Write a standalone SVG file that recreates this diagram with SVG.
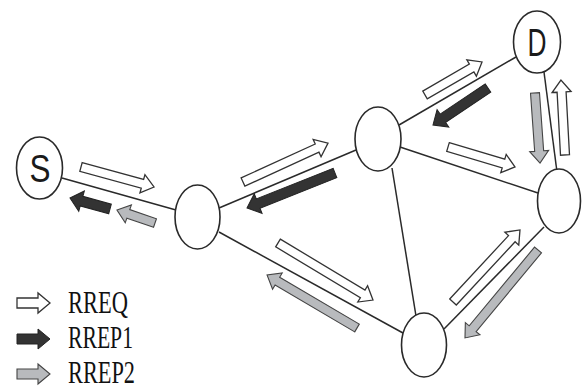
<svg xmlns="http://www.w3.org/2000/svg" width="582" height="390" viewBox="0 0 582 390">
<style>
.edge{stroke:#2a2a2a;stroke-width:1.5;fill:none}
.node{fill:#fff;stroke:#2a2a2a;stroke-width:1.6}
.lbl{font-family:"Liberation Sans",Arial,sans-serif;font-size:38px;fill:#1a1a1a;text-anchor:middle}
.rreq{fill:#fff;stroke:#333;stroke-width:1.3;stroke-linejoin:miter}
.rrep1{fill:#333;stroke:#222;stroke-width:1}
.rrep2{fill:#b8babd;stroke:#444;stroke-width:1.1}
.leg{font-family:"Liberation Serif","Times New Roman",serif;font-size:31px;fill:#111}
</style>
<rect width="582" height="390" fill="#fff"/>
<g id="connectors">
<line class="edge" x1="62" y1="178" x2="176" y2="210"/>
<line class="edge" x1="219" y1="208" x2="356" y2="150"/>
<line class="edge" x1="219" y1="232" x2="403" y2="333"/>
<line class="edge" x1="399" y1="125" x2="516" y2="57"/>
<line class="edge" x1="400" y1="147" x2="538" y2="193"/>
<line class="edge" x1="392" y1="168" x2="416" y2="316"/>
<line class="edge" x1="544" y1="72" x2="557" y2="172"/>
<line class="edge" x1="444" y1="329" x2="544" y2="227"/>
</g>
<g id="messages">
<path class="rreq" transform="translate(81,167) rotate(15.3)" d="M0,-4.5H63.7V-9.5L75.7,0L63.7,9.5V4.5H0Z"/>
<path class="rrep1" transform="translate(110,209) rotate(195.4)" d="M0,-5H29.5V-10.5L41.5,0L29.5,10.5V5H0Z"/>
<path class="rrep2" transform="translate(155,223) rotate(198.9)" d="M0,-4.5H28.2V-9.5L40.2,0L28.2,9.5V4.5H0Z"/>
<path class="rreq" transform="translate(243,182) rotate(-24.6)" d="M0,-4.5H81.5V-9.5L93.5,0L81.5,9.5V4.5H0Z"/>
<path class="rrep1" transform="translate(335,173) rotate(158.3)" d="M0,-5H82.7V-10.5L94.7,0L82.7,10.5V5H0Z"/>
<path class="rreq" transform="translate(425,95) rotate(-30.1)" d="M0,-4.5H53.9V-9.5L65.9,0L53.9,9.5V4.5H0Z"/>
<path class="rrep1" transform="translate(488,88) rotate(146.1)" d="M0,-5H54.3V-10.5L66.3,0L54.3,10.5V5H0Z"/>
<path class="rreq" transform="translate(448,147) rotate(16.6)" d="M0,-4.5H57.9V-9.5L69.9,0L57.9,9.5V4.5H0Z"/>
<path class="rrep2" transform="translate(535,93) rotate(85.9)" d="M0,-4.5H58.2V-9.5L70.2,0L58.2,9.5V4.5H0Z"/>
<path class="rreq" transform="translate(565,155) rotate(-93.1)" d="M0,-4.5H63.1V-9.5L75.1,0L63.1,9.5V4.5H0Z"/>
<path class="rreq" transform="translate(278,243) rotate(31)" d="M0,-4.5H98.8V-9.5L110.8,0L98.8,9.5V4.5H0Z"/>
<path class="rrep2" transform="translate(357,328) rotate(210.5)" d="M0,-4.5H92.4V-9.5L104.4,0L92.4,9.5V4.5H0Z"/>
<path class="rreq" transform="translate(453,302) rotate(-47.1)" d="M0,-4.5H86.4V-9.5L98.4,0L86.4,9.5V4.5H0Z"/>
<path class="rrep2" transform="translate(538,250) rotate(129.7)" d="M0,-4.5H102.3V-9.5L114.3,0L102.3,9.5V4.5H0Z"/>
</g>
<g id="node-S">
<ellipse class="node" cx="39.5" cy="168" rx="23" ry="31"/>
<text class="lbl" x="40" y="182" textLength="21" lengthAdjust="spacingAndGlyphs">S</text>
</g>
<g id="node-A"><ellipse class="node" cx="197.5" cy="217" rx="22.5" ry="32"/></g>
<g id="node-B"><ellipse class="node" cx="378" cy="139" rx="23" ry="32"/></g>
<g id="node-D">
<ellipse class="node" cx="537" cy="42" rx="23.5" ry="31"/>
<text class="lbl" x="537" y="56" textLength="19" lengthAdjust="spacingAndGlyphs">D</text>
</g>
<g id="node-C"><ellipse class="node" cx="559" cy="201" rx="21.5" ry="32"/></g>
<g id="node-E"><ellipse class="node" cx="424" cy="345" rx="22.5" ry="32"/></g>
<g id="legend">
<path class="rreq" transform="translate(17,303)" d="M0,-5H21V-10L33,0L21,10V5H0Z"/>
<text class="leg" x="68" y="313" textLength="60" lengthAdjust="spacingAndGlyphs">RREQ</text>
<path class="rrep1" transform="translate(17,339)" d="M0,-5H21V-10L33,0L21,10V5H0Z"/>
<text class="leg" x="68" y="348" textLength="65" lengthAdjust="spacingAndGlyphs">RREP1</text>
<path class="rrep2" transform="translate(17,374)" d="M0,-5H21V-10L33,0L21,10V5H0Z"/>
<text class="leg" x="68" y="383" textLength="67" lengthAdjust="spacingAndGlyphs">RREP2</text>
</g>
</svg>
